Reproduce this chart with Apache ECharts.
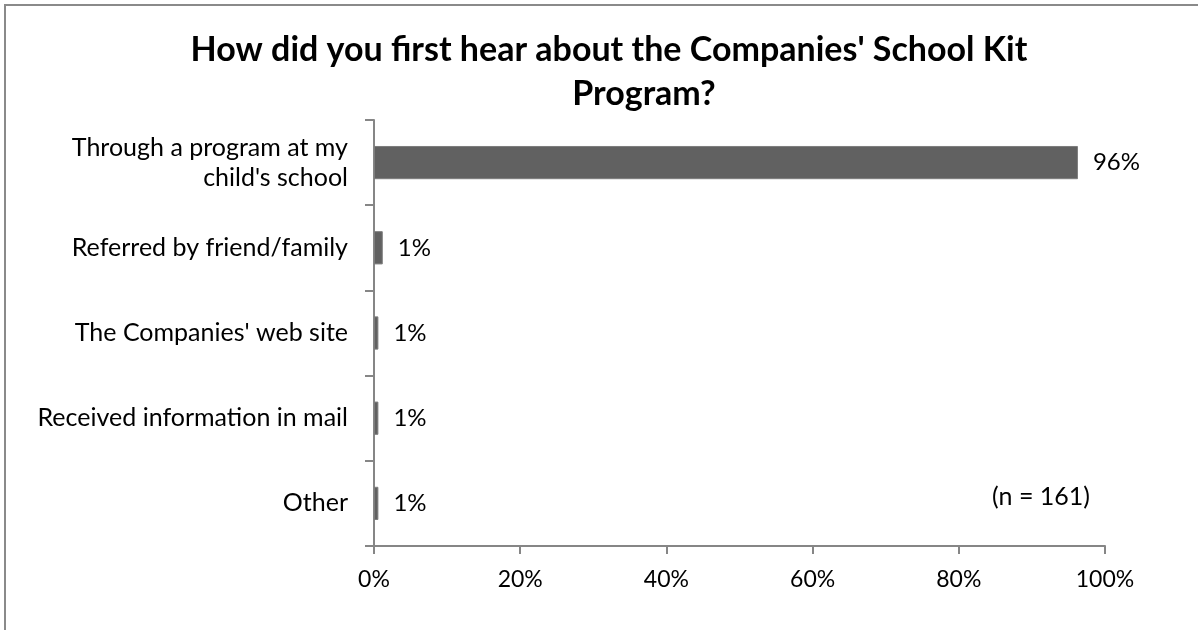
<!DOCTYPE html>
<html>
<head>
<meta charset="utf-8">
<script src="https://cdn.jsdelivr.net/npm/echarts@6/dist/echarts.min.js"></script>
<style>
  html, body { margin: 0; padding: 0; background: #fff; }
  #chart { width: 1198px; height: 630px; }
</style>
</head>
<body>
<div id="chart"></div>
<script>
// Survey answers, top to bottom
const categories = [
  "Through a program at my\nchild's school",
  "Referred by friend/family",
  "The Companies' web site",
  "Received information in mail",
  "Other"
];
// Share of respondents (%), n = 161
const shares = [96.3, 1.2, 0.6, 0.6, 0.6];
const xTicks = [0, 20, 40, 60, 80, 100];
const sampleNote = "(n = 161)";
const titleLines = ["How did you first hear about the Companies' School Kit", "Program?"];

const FONT = 'Lato';
const axisGrey = '#868686';

const chart = echarts.init(document.getElementById('chart'), null, { renderer: 'canvas' });
chart.setOption({
  animation: false,
  backgroundColor: '#ffffff',
  textStyle: { fontFamily: FONT },
  title: [
    {
      text: titleLines[0], left: 604, top: 28, textAlign: 'center',
      textStyle: { fontFamily: FONT, fontWeight: 'bold', fontSize: 34, color: '#000' }
    },
    {
      text: titleLines[1], left: 639, top: 72, textAlign: 'center',
      textStyle: { fontFamily: FONT, fontWeight: 'bold', fontSize: 34, color: '#000' }
    }
  ],
  grid: { left: 374, right: 93, top: 120, bottom: 84, containLabel: false },
  xAxis: {
    type: 'value',
    min: xTicks[0], max: xTicks[xTicks.length - 1], interval: 20,
    axisLine: { show: true, lineStyle: { color: axisGrey, width: 2 } },
    axisTick: { show: true, length: 8, lineStyle: { color: axisGrey, width: 2 } },
    splitLine: { show: false },
    axisLabel: { formatter: '{value}%', fontSize: 23, color: '#000', margin: 22, fontFamily: FONT }
  },
  yAxis: {
    type: 'category',
    inverse: true,
    data: categories,
    axisLine: { show: true, lineStyle: { color: axisGrey, width: 2 } },
    axisTick: { show: true, length: 9, lineStyle: { color: axisGrey, width: 2 } },
    axisLabel: { fontSize: 25, color: '#000', margin: 26, lineHeight: 30, align: 'right', fontFamily: FONT }
  },
  series: [{
    type: 'bar',
    data: shares,
    barWidth: '39%',
    itemStyle: { color: '#616161', borderColor: '#7d7d7d', borderWidth: 1 },
    label: {
      show: true, position: 'right', distance: 15,
      formatter: p => Math.round(p.value) + '%',
      fontSize: 24, color: '#000', fontFamily: FONT
    }
  }],
  graphic: [
    {
      type: 'rect', silent: true,
      shape: { x: 5, y: 5, width: 1300, height: 700 },
      style: { fill: 'none', stroke: '#8a8a8a', lineWidth: 2 }
    },
    {
      type: 'text', silent: true,
      style: { text: sampleNote, x: 1090, y: 497, align: 'right', verticalAlign: 'middle',
               font: '25px ' + FONT, fill: '#000' }
    }
  ]
});
</script>
</body>
</html>
